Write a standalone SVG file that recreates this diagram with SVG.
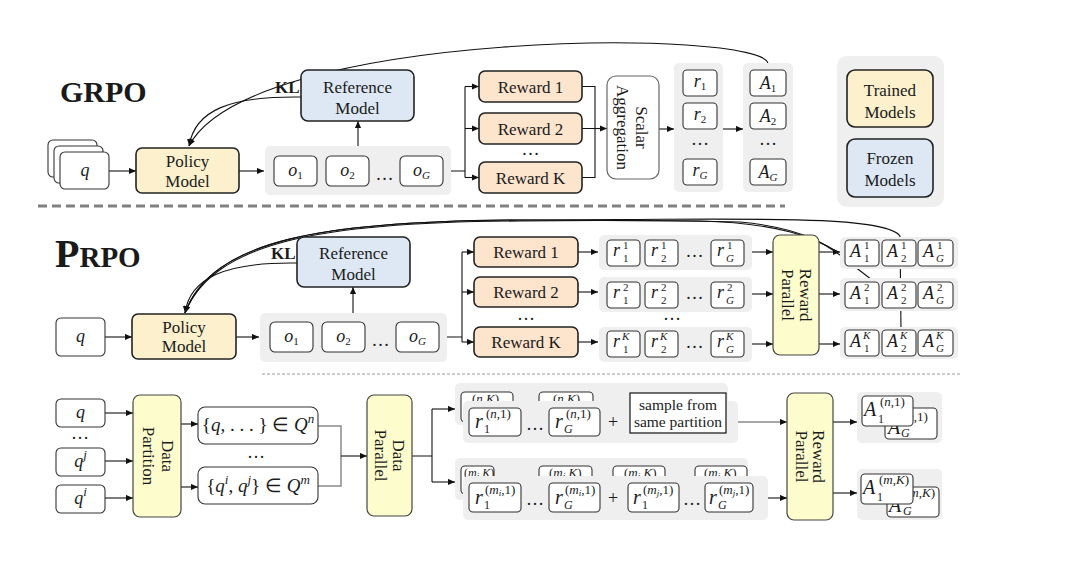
<svg xmlns="http://www.w3.org/2000/svg" width="1086" height="566" viewBox="0 0 1086 566">
<defs>
<style>
.b{fill:#fff;stroke:#333;stroke-width:1.1}
.pn{fill:#efefef}
.tr{fill:#fdf1cd;stroke:#222;stroke-width:1.6}
.fz{fill:#dde8f4;stroke:#222;stroke-width:1.6}
.rw{fill:#fde4cd;stroke:#222;stroke-width:1.6}
.py{fill:#fdfccd;stroke:#444;stroke-width:1.2}
.ln{fill:none;stroke:#111;stroke-width:1.1}
.ar{marker-end:url(#ah)}
.gl{fill:none;stroke:#8a8a8a;stroke-width:1.5}
.t{font-family:"Liberation Serif","Times New Roman",serif;font-size:17px;fill:#1a1a1a}
.c{text-anchor:middle}
.i{font-style:italic}
.s{font-size:11px}
.m{font-size:18px;font-style:italic}
.bm{font-size:20px;font-style:italic}
.ss{font-size:13px}
.d{font-size:18px}
.sm{font-size:13px}
.sx{font-size:12px}
.tn{font-size:9px}
</style>
<marker id="ah" markerWidth="7" markerHeight="7" refX="7" refY="3.5" orient="auto" markerUnits="userSpaceOnUse"><path d="M0,0.4 L7,3.5 L0,6.6 z" fill="#111"/></marker>
</defs>
<rect width="1086" height="566" fill="#fff"/>

<g id="separators">
<line x1="38" y1="206" x2="785" y2="206" stroke="#808080" stroke-width="3" stroke-dasharray="9 5"/>
<line x1="262" y1="374" x2="960" y2="374" stroke="#9a9a9a" stroke-width="1" stroke-dasharray="3 2"/>
</g>

<!-- ================= GRPO ================= -->
<g id="grpo-title"><text class="t" x="60" y="102" style="font-size:30px;font-weight:bold">GRPO</text></g>

<g id="grpo-connectors">
<path class="ln ar" d="M768,64 C768,28 250,28 189,146"/>
<path class="ln ar" d="M301,97 C230,96 195,110 189,146"/>
<path class="ln ar" d="M109,171 H136"/>
<path class="ln ar" d="M239,171 H264"/>
<path class="ln ar" d="M358,146 V121"/>
<path class="ln" d="M451,171 H465 M465,86.5 V177.5"/>
<path class="ln ar" d="M465,86.5 H479"/>
<path class="ln ar" d="M465,128.5 H479"/>
<path class="ln ar" d="M465,177.5 H479"/>
<path class="ln" d="M582,86.5 H595 V177.5 H582 M582,128.5 H595"/>
<path class="ln ar" d="M595,128.5 H607"/>
<path class="ln ar" d="M659,129 H674"/>
<path class="ln ar" d="M723,129 H743"/>
<text class="t" x="275" y="93" style="font-weight:bold">KL</text>
</g>

<g id="grpo-q">
<rect class="b" x="48" y="140" width="49" height="37" rx="5"/>
<rect class="b" x="54" y="146" width="49" height="37" rx="5"/>
<rect class="b" x="60" y="152" width="49" height="37" rx="5"/>
<text class="t c m" x="85" y="176">q</text>
</g>
<g id="grpo-policy">
<rect class="tr" x="136" y="148" width="103" height="45" rx="6"/>
<text class="t c" x="187.5" y="167">Policy</text>
<text class="t c" x="187.5" y="187">Model</text>
</g>
<g id="grpo-reference">
<rect class="fz" x="301" y="70" width="113" height="51" rx="7"/>
<text class="t c" x="357.5" y="93">Reference</text>
<text class="t c" x="357.5" y="114">Model</text>
</g>
<g id="grpo-outputs">
<rect class="pn" x="265" y="146" width="186" height="49" rx="5"/>
<rect class="b" x="274" y="156" width="43" height="30" rx="5"/>
<rect class="b" x="326" y="156" width="43" height="30" rx="5"/>
<rect class="b" x="400" y="156" width="43" height="30" rx="5"/>
<text class="t c m" x="295.5" y="176">o<tspan class="s" style="font-style:normal" dy="3">1</tspan></text>
<text class="t c m" x="347.5" y="176">o<tspan class="s" style="font-style:normal" dy="3">2</tspan></text>
<text class="t c m" x="421.5" y="176">o<tspan class="s" dy="3">G</tspan></text>
<text class="t c d" x="384.5" y="180">…</text>
</g>
<g id="grpo-rewards">
<rect class="rw" x="479" y="71" width="103" height="31" rx="6"/>
<text class="t c" x="530.5" y="92.5">Reward 1</text>
<rect class="rw" x="479" y="113" width="103" height="31" rx="6"/>
<text class="t c" x="530.5" y="134.5">Reward 2</text>
<text class="t c d" x="530.5" y="155">…</text>
<rect class="rw" x="479" y="162" width="103" height="31" rx="6"/>
<text class="t c" x="530.5" y="183.5">Reward K</text>
</g>
<g id="grpo-aggregation">
<rect x="607" y="76" width="52" height="103" rx="9" fill="#fff" stroke="#666" stroke-width="1.2"/>
<text class="t c" transform="translate(633,127.5) rotate(90)" x="0" y="-2.5">Scalar</text>
<text class="t c" transform="translate(633,127.5) rotate(90)" x="0" y="16.5">Aggregation</text>
</g>
<g id="grpo-r">
<rect class="pn" x="674" y="63" width="49" height="129" rx="5"/>
<rect class="b" x="683" y="70" width="34" height="26" rx="4"/>
<rect class="b" x="683" y="103" width="34" height="26" rx="4"/>
<rect class="b" x="683" y="159" width="34" height="26" rx="4"/>
<text class="t c m" x="700" y="87">r<tspan class="s" style="font-style:normal" dy="3">1</tspan></text>
<text class="t c m" x="700" y="120">r<tspan class="s" style="font-style:normal" dy="3">2</tspan></text>
<text class="t c m" x="700" y="176">r<tspan class="s" dy="3">G</tspan></text>
<text class="t c d" x="700" y="145">…</text>
</g>
<g id="grpo-A">
<rect class="pn" x="743" y="63" width="50" height="129" rx="5"/>
<rect class="b" x="750" y="70" width="36" height="26" rx="4"/>
<rect class="b" x="750" y="103" width="36" height="26" rx="4"/>
<rect class="b" x="750" y="159" width="36" height="26" rx="4"/>
<text class="t c m" x="768" y="89">A<tspan class="s" style="font-style:normal" dy="3">1</tspan></text>
<text class="t c m" x="768" y="122">A<tspan class="s" style="font-style:normal" dy="3">2</tspan></text>
<text class="t c m" x="768" y="178">A<tspan class="s" dy="3">G</tspan></text>
<text class="t c d" x="768" y="145">…</text>
</g>
<g id="legend">
<rect class="pn" x="837" y="56" width="107" height="151" rx="10"/>
<rect class="tr" x="847" y="70" width="86" height="57" rx="8"/>
<text class="t c" x="890" y="96">Trained</text>
<text class="t c" x="890" y="118">Models</text>
<rect class="fz" x="847" y="139" width="86" height="58" rx="8"/>
<text class="t c" x="890" y="164">Frozen</text>
<text class="t c" x="890" y="186">Models</text>
</g>

<!-- ================= PRPO ================= -->
<g id="prpo-title"><text class="t" x="55" y="267" style="font-size:40px;font-weight:bold">P<tspan style="font-size:29px">RPO</tspan></text></g>

<g id="prpo-connectors">
<path class="ln" d="M900,236 L901,330"/>
<path class="ln" d="M885,290 L850,263"/>
<path class="ln" stroke-width="1.2" d="M850,263 C830,246 805,228 740,222 C640,220 560,220.5 520,221 C328,222 214,240 185,313"/>
<path class="ln" stroke-width="1.2" d="M838,252 C815,238 780,223 700,221 C620,220 560,220 520,220 C325,221 212,239 185,313"/>
<path class="ln ar" stroke-width="1.2" d="M900,236 C885,216 760,219 620,219.5 C570,219.7 540,219.8 520,220 C325,221 212,239 185,313"/>
<path class="ln ar" d="M297,263 C225,262 190,278 185,313"/>
<text class="t" x="271" y="259" style="font-weight:bold">KL</text>
<path class="ln ar" d="M105,337 H132"/>
<path class="ln ar" d="M236,337 H259"/>
<path class="ln ar" d="M353,313 V287"/>
<path class="ln" d="M447,337 H462 M462,252 V342"/>
<path class="ln ar" d="M462,252 H474"/>
<path class="ln ar" d="M462,292 H474"/>
<path class="ln ar" d="M462,342 H474"/>
<path class="ln ar" d="M578,252 H598"/>
<path class="ln ar" d="M578,292 H598"/>
<path class="ln ar" d="M578,342 H598"/>
<path class="ln ar" d="M752,252 H773"/>
<path class="ln ar" d="M752,294 H773"/>
<path class="ln ar" d="M752,344 H773"/>
<path class="ln ar" d="M819,252 H840"/>
<path class="ln ar" d="M819,294 H840"/>
<path class="ln ar" d="M819,344 H840"/>
</g>

<g id="prpo-q">
<rect class="b" x="56" y="318" width="49" height="38" rx="5"/>
<text class="t c m" x="80.5" y="342">q</text>
</g>
<g id="prpo-policy">
<rect class="tr" x="132" y="314" width="104" height="45" rx="6"/>
<text class="t c" x="184" y="333">Policy</text>
<text class="t c" x="184" y="352">Model</text>
</g>
<g id="prpo-reference">
<rect class="fz" x="297" y="237" width="113" height="50" rx="7"/>
<text class="t c" x="353.5" y="259">Reference</text>
<text class="t c" x="353.5" y="280">Model</text>
</g>
<g id="prpo-outputs">
<rect class="pn" x="260" y="313" width="187" height="49" rx="5"/>
<rect class="b" x="270" y="322" width="43" height="30" rx="5"/>
<rect class="b" x="322" y="322" width="43" height="30" rx="5"/>
<rect class="b" x="396" y="322" width="43" height="30" rx="5"/>
<text class="t c m" x="291.5" y="342">o<tspan class="s" style="font-style:normal" dy="3">1</tspan></text>
<text class="t c m" x="343.5" y="342">o<tspan class="s" style="font-style:normal" dy="3">2</tspan></text>
<text class="t c m" x="417.5" y="342">o<tspan class="s" dy="3">G</tspan></text>
<text class="t c d" x="380.5" y="346">…</text>
</g>
<g id="prpo-rewards">
<rect class="rw" x="474" y="237" width="104" height="30" rx="6"/>
<text class="t c" x="526" y="258">Reward 1</text>
<rect class="rw" x="474" y="277" width="104" height="30" rx="6"/>
<text class="t c" x="526" y="298">Reward 2</text>
<text class="t c d" x="526" y="320">…</text>
<rect class="rw" x="474" y="327" width="104" height="30" rx="6"/>
<text class="t c" x="526" y="348">Reward K</text>
</g>
<g id="prpo-r">
<rect class="pn" x="599" y="235" width="153" height="35" rx="5"/>
<rect class="pn" x="599" y="277" width="153" height="35" rx="5"/>
<rect class="pn" x="599" y="327" width="153" height="35" rx="5"/>
<rect class="b" x="607" y="240" width="33" height="26" rx="4"/>
<rect class="b" x="645" y="240" width="33" height="26" rx="4"/>
<rect class="b" x="711" y="240" width="33" height="26" rx="4"/>
<rect class="b" x="607" y="282" width="33" height="26" rx="4"/>
<rect class="b" x="645" y="282" width="33" height="26" rx="4"/>
<rect class="b" x="711" y="282" width="33" height="26" rx="4"/>
<rect class="b" x="607" y="331" width="33" height="26" rx="4"/>
<rect class="b" x="645" y="331" width="33" height="26" rx="4"/>
<rect class="b" x="711" y="331" width="33" height="26" rx="4"/>
<g>
<text class="t m" x="613" y="256">r</text><text class="t s" x="623" y="249">1</text><text class="t s" x="623" y="262">1</text>
<text class="t m" x="651" y="256">r</text><text class="t s" x="661" y="249">1</text><text class="t s" x="661" y="262">2</text>
<text class="t m" x="717" y="256">r</text><text class="t s" x="727" y="249">1</text><text class="t s i" x="726" y="262">G</text>
<text class="t m" x="613" y="298">r</text><text class="t s" x="623" y="291">2</text><text class="t s" x="623" y="304">1</text>
<text class="t m" x="651" y="298">r</text><text class="t s" x="661" y="291">2</text><text class="t s" x="661" y="304">2</text>
<text class="t m" x="717" y="298">r</text><text class="t s" x="727" y="291">2</text><text class="t s i" x="726" y="304">G</text>
<text class="t m" x="613" y="347">r</text><text class="t s i" x="622" y="340">K</text><text class="t s" x="623" y="353">1</text>
<text class="t m" x="651" y="347">r</text><text class="t s i" x="660" y="340">K</text><text class="t s" x="661" y="353">2</text>
<text class="t m" x="717" y="347">r</text><text class="t s i" x="726" y="340">K</text><text class="t s i" x="726" y="353">G</text>
</g>
<text class="t c d" x="694.5" y="257">…</text>
<text class="t c d" x="694.5" y="299">…</text>
<text class="t c d" x="694.5" y="348">…</text>
<text class="t c d" x="672" y="320">…</text>
</g>
<g id="prpo-reward-parallel">
<rect class="py" x="773" y="235" width="46" height="120" rx="7"/>
<text class="t c" transform="translate(796,295) rotate(90)" x="0" y="-3.5">Reward</text>
<text class="t c" transform="translate(796,295) rotate(90)" x="0" y="14.5">Parallel</text>
</g>
<g id="prpo-A">
<rect class="pn" x="840" y="237" width="118" height="32" rx="5"/>
<rect class="pn" x="840" y="278" width="118" height="33" rx="5"/>
<rect class="pn" x="840" y="327" width="118" height="32" rx="5"/>
<rect class="b" x="845" y="240" width="34" height="26" rx="4"/>
<rect class="b" x="882" y="240" width="34" height="26" rx="4"/>
<rect class="b" x="918" y="240" width="35" height="26" rx="4"/>
<rect class="b" x="845" y="282" width="34" height="26" rx="4"/>
<rect class="b" x="882" y="282" width="34" height="26" rx="4"/>
<rect class="b" x="918" y="282" width="35" height="26" rx="4"/>
<rect class="b" x="845" y="330" width="34" height="26" rx="4"/>
<rect class="b" x="882" y="330" width="34" height="26" rx="4"/>
<rect class="b" x="918" y="330" width="35" height="26" rx="4"/>
<g>
<text class="t m" x="850" y="257">A</text><text class="t s" x="864" y="249">1</text><text class="t s" x="864" y="262">1</text>
<text class="t m" x="887" y="257">A</text><text class="t s" x="901" y="249">1</text><text class="t s" x="901" y="262">2</text>
<text class="t m" x="923" y="257">A</text><text class="t s" x="937" y="249">1</text><text class="t s i" x="936" y="262">G</text>
<text class="t m" x="850" y="299">A</text><text class="t s" x="864" y="291">2</text><text class="t s" x="864" y="304">1</text>
<text class="t m" x="887" y="299">A</text><text class="t s" x="901" y="291">2</text><text class="t s" x="901" y="304">2</text>
<text class="t m" x="923" y="299">A</text><text class="t s" x="937" y="291">2</text><text class="t s i" x="936" y="304">G</text>
<text class="t m" x="850" y="347">A</text><text class="t s i" x="863" y="339">K</text><text class="t s" x="864" y="352">1</text>
<text class="t m" x="887" y="347">A</text><text class="t s i" x="900" y="339">K</text><text class="t s" x="901" y="352">2</text>
<text class="t m" x="923" y="347">A</text><text class="t s i" x="936" y="339">K</text><text class="t s i" x="936" y="352">G</text>
</g>
</g>

<!-- ================= Bottom ================= -->
<g id="bottom-connectors">
<path class="ln ar" d="M105,413 H133"/>
<path class="ln ar" d="M105,461 H133"/>
<path class="ln ar" d="M105,498 H133"/>
<path class="ln ar" d="M181,424 H198"/>
<path class="ln ar" d="M181,487 H198"/>
<path class="gl" d="M318,426 H341 V486 H318"/>
<path class="ln ar" d="M341,456 H367"/>
<path class="ln" d="M412,456 H432 M432,409 V482"/>
<path class="ln ar" d="M432,409 H455"/>
<path class="ln ar" d="M432,482 H455"/>
<path class="gl ar" d="M738,422 H787"/>
<path class="ln ar" d="M768,498 H787"/>
<path class="ln ar" d="M833,422 H857"/>
<path class="ln ar" d="M833,493 H857"/>
</g>

<g id="bottom-queries">
<rect class="b" x="56" y="399" width="49" height="28" rx="5"/>
<text class="t c m" x="80.5" y="418">q</text>
<text class="t c d" x="80" y="439">…</text>
<rect class="b" x="56" y="448" width="49" height="28" rx="5"/>
<text class="t c m" x="80.5" y="467">q<tspan class="ss" dy="-8">j</tspan></text>
<rect class="b" x="56" y="485" width="49" height="28" rx="5"/>
<text class="t c m" x="80.5" y="504">q<tspan class="ss" dy="-8">i</tspan></text>
</g>
<g id="data-partition">
<rect class="py" x="133" y="395" width="48" height="122" rx="7"/>
<text class="t c" transform="translate(157,456) rotate(90)" x="0" y="-4.5">Data</text>
<text class="t c" transform="translate(157,456) rotate(90)" x="0" y="14.5">Partition</text>
</g>
<g id="partitions">
<rect class="b" x="198" y="407" width="120" height="37" rx="7" stroke="#444"/>
<text class="t c" x="258" y="431" style="font-size:19px">{<tspan class="i">q</tspan>, . . . } ∈ <tspan class="i">Q</tspan><tspan class="i ss" dy="-8">n</tspan></text>
<text class="t c d" x="256" y="458">…</text>
<rect class="b" x="198" y="467" width="120" height="37" rx="7" stroke="#444"/>
<text class="t c" x="258" y="492" style="font-size:19px">{<tspan class="i">q</tspan><tspan class="i ss" dy="-8">i</tspan><tspan dy="8">, </tspan><tspan class="i">q</tspan><tspan class="i ss" dy="-8">j</tspan><tspan dy="8">} ∈ </tspan><tspan class="i">Q</tspan><tspan class="i ss" dy="-8">m</tspan></text>
</g>
<g id="data-parallel">
<rect class="py" x="367" y="395" width="45" height="121" rx="7"/>
<text class="t c" transform="translate(389.5,455.5) rotate(90)" x="0" y="-3">Data</text>
<text class="t c" transform="translate(389.5,455.5) rotate(90)" x="0" y="15">Parallel</text>
</g>

<g id="stack-n">
<rect class="pn" x="455" y="383" width="273" height="42" rx="5"/>
<rect class="b" x="461" y="392" width="52" height="30" rx="4"/>
<rect class="b" x="539" y="392" width="54" height="30" rx="4"/>
<text class="t sm" x="472" y="403">(<tspan class="i">n</tspan>,<tspan class="i">K</tspan>)</text>
<text class="t sm" x="553" y="403">(<tspan class="i">n</tspan>,<tspan class="i">K</tspan>)</text>
<rect class="pn" x="463" y="401" width="275" height="42" rx="5"/>
<rect class="b" x="469" y="408" width="52" height="28" rx="4"/>
<rect class="b" x="549" y="408" width="51" height="28" rx="4"/>
<text class="t bm" x="475" y="428">r</text>
<text class="t sm" x="486" y="418">(<tspan class="i">n</tspan>,1)</text>
<text class="t sx" x="484" y="433">1</text>
<text class="t bm" x="555" y="428">r</text>
<text class="t sm" x="566" y="418">(<tspan class="i">n</tspan>,1)</text>
<text class="t sx i" x="564" y="433">G</text>
<text class="t c d" x="535" y="430">…</text>
<text class="t c d" x="613" y="428">+</text>
<rect x="630" y="393" width="96" height="40" fill="#fff" stroke="#111" stroke-width="1.2"/>
<text class="t c" x="678" y="410" style="font-size:15.5px">sample from</text>
<text class="t c" x="678" y="427" style="font-size:15.5px">same partition</text>
</g>

<g id="stack-m">
<rect class="pn" x="455" y="458" width="293" height="42" rx="5"/>
<rect class="b" x="461" y="466" width="33" height="28" rx="4"/>
<rect class="b" x="539" y="466" width="53" height="28" rx="4"/>
<rect class="b" x="613" y="466" width="52" height="28" rx="4"/>
<rect class="b" x="695" y="466" width="52" height="28" rx="4"/>
<text class="t sx" x="464" y="477">(<tspan class="i">m</tspan><tspan class="i tn" dy="2">i</tspan><tspan dy="-2">,</tspan><tspan class="i">K</tspan>)</text>
<text class="t sm" x="549" y="477">(<tspan class="i">m</tspan><tspan class="i tn" dy="2">i</tspan><tspan dy="-2">,</tspan><tspan class="i">K</tspan>)</text>
<text class="t sm" x="624" y="477">(<tspan class="i">m</tspan><tspan class="i tn" dy="2">j</tspan><tspan dy="-2">,</tspan><tspan class="i">K</tspan>)</text>
<text class="t sm" x="704" y="477">(<tspan class="i">m</tspan><tspan class="i tn" dy="2">j</tspan><tspan dy="-2">,</tspan><tspan class="i">K</tspan>)</text>
<text class="t c sm" x="507" y="478">…</text>
<text class="t c sm" x="681" y="478">…</text>
<rect class="pn" x="463" y="476" width="305" height="44" rx="5"/>
<rect class="b" x="469" y="483" width="52" height="29" rx="4"/>
<rect class="b" x="549" y="483" width="51" height="29" rx="4"/>
<rect class="b" x="628" y="483" width="51" height="29" rx="4"/>
<rect class="b" x="705" y="483" width="48" height="29" rx="4"/>
<text class="t bm" x="475" y="504">r</text>
<text class="t sm" x="485" y="494">(<tspan class="i">m</tspan><tspan class="i tn" dy="2">i</tspan><tspan dy="-2">,1)</tspan></text>
<text class="t sx" x="484" y="509">1</text>
<text class="t bm" x="555" y="504">r</text>
<text class="t sm" x="565" y="494">(<tspan class="i">m</tspan><tspan class="i tn" dy="2">i</tspan><tspan dy="-2">,1)</tspan></text>
<text class="t sx i" x="564" y="509">G</text>
<text class="t c d" x="535" y="505">…</text>
<text class="t c d" x="613" y="504">+</text>
<text class="t bm" x="633" y="504">r</text>
<text class="t sm" x="643" y="494">(<tspan class="i">m</tspan><tspan class="i tn" dy="2">j</tspan><tspan dy="-2">,1)</tspan></text>
<text class="t sx" x="642" y="509">1</text>
<text class="t c d" x="692" y="505">…</text>
<text class="t bm" x="709" y="504">r</text>
<text class="t sm" x="719" y="494">(<tspan class="i">m</tspan><tspan class="i tn" dy="2">j</tspan><tspan dy="-2">,1)</tspan></text>
<text class="t sx i" x="718" y="509">G</text>
</g>

<g id="bottom-reward-parallel">
<rect class="py" x="787" y="393" width="46" height="127" rx="7"/>
<text class="t c" transform="translate(810,456.5) rotate(90)" x="0" y="-2.5">Reward</text>
<text class="t c" transform="translate(810,456.5) rotate(90)" x="0" y="14.5">Parallel</text>
</g>

<g id="bottom-A-n">
<rect class="pn" x="857" y="392" width="85" height="51" rx="5"/>
<rect class="b" x="885" y="408" width="52" height="31" rx="4"/>
<text class="t bm" x="888" y="434">A</text>
<text class="t sm" x="903" y="421">(<tspan class="i">n</tspan>,1)</text>
<text class="t sx i" x="901" y="437">G</text>
<rect class="b" x="862" y="396" width="51" height="30" rx="4"/>
<text class="t bm" x="864" y="416">A</text>
<text class="t sm" x="880" y="406">(<tspan class="i">n</tspan>,1)</text>
<text class="t sx" x="878" y="423">1</text>
</g>
<g id="bottom-A-m">
<rect class="pn" x="857" y="469" width="85" height="51" rx="5"/>
<rect class="b" x="887" y="487" width="52" height="30" rx="4"/>
<text class="t bm" x="889" y="512">A</text>
<text class="t sm" x="905" y="497">(<tspan class="i">m</tspan>,<tspan class="i">K</tspan>)</text>
<text class="t sx i" x="903" y="515">G</text>
<rect class="b" x="861" y="474" width="52" height="30" rx="4"/>
<text class="t bm" x="863" y="494">A</text>
<text class="t sm" x="879" y="484">(<tspan class="i">m</tspan>,<tspan class="i">K</tspan>)</text>
<text class="t sx" x="877" y="501">1</text>
</g>
</svg>
